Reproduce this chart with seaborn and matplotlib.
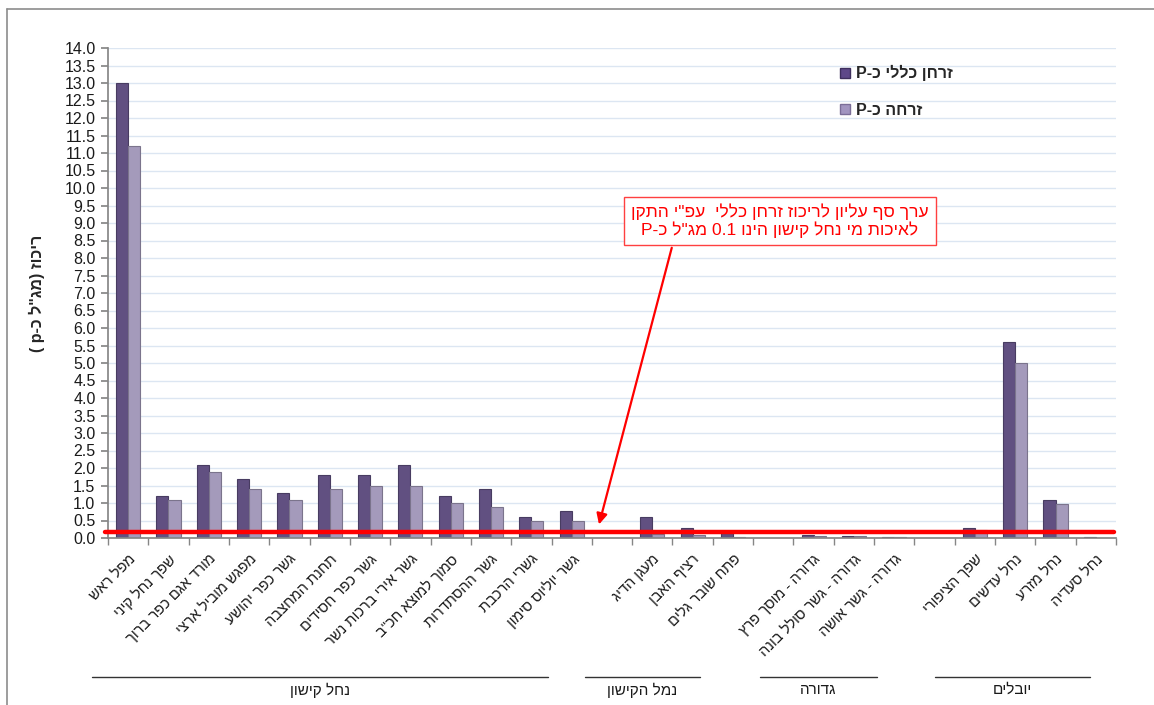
import re
import numpy as np
import pandas as pd
import matplotlib
matplotlib.use('Agg')
import matplotlib.pyplot as plt
import seaborn as sns
from matplotlib.lines import Line2D
from matplotlib.patches import Patch

# stations along the x axis ('' = empty slot between groups)
stations = ['מפל ראש', 'שפך נחל קיני', 'מורד אגם כפר ברוך', 'מפגש מוביל ארצי',
            'גשר כפר יהושע', 'תחנת המחצבה', 'גשר כפר חסידים', 'גשר אירי ברכות נשר',
            'סמוך למוצא חכ"ב', 'גשר ההסתדרות', 'גשרי הרכבת', 'גשר יוליוס סימון',
            '',
            'מעגן הדיג', 'רציף האבן', 'פתח שובר גלים',
            '',
            'גדורה - מוסך פרץ', 'גדורה - גשר סולל בונה', 'גדורה - גשר אושה',
            '',
            'שפך הציפורי', 'נחל עדשים', 'נחל מזרע', 'נחל סעדיה']

total_p = [13.0, 1.2, 2.1, 1.7, 1.3, 1.8, 1.8, 2.1, 1.2, 1.4, 0.6, 0.78,
           None,
           0.6, 0.29, 0.15,
           None,
           0.08, 0.06, 0.02,
           None,
           0.28, 5.6, 1.08, 0.02]

dissolved_p = [11.2, 1.1, 1.9, 1.4, 1.1, 1.4, 1.5, 1.5, 1.0, 0.9, 0.5, 0.49,
               None,
               0.12, 0.08, 0.03,
               None,
               0.07, 0.05, 0.02,
               None,
               0.22, 5.0, 0.97, 0.01]

series_names = ['זרחן כללי כ-P', 'זרחה כ-P']
groups = ['נחל קישון', 'נמל הקישון', 'גדורה', 'יובלים']
y_label = 'ריכוז (מג"ל כ-p )'
note_lines = ['ערך סף עליון לריכוז זרחן כללי  עפ"י התקן',
              'לאיכות מי נחל קישון הינו 0.1 מג"ל כ-P']
THRESHOLD = 0.17

LTR = re.compile(r'[A-Za-z0-9]+(?:\.[0-9]+)*')
MIRROR = {'(': ')', ')': '('}


def visual(s):
    """Turn logical-order Hebrew text into visual order for matplotlib."""
    parts = []
    i = 0
    for m in LTR.finditer(s):
        parts.extend(s[i:m.start()])
        parts.append(m.group())
        i = m.end()
    parts.extend(s[i:])
    return ''.join(MIRROR.get(p, p) for p in reversed(parts))


slots = ['s%d' % i for i in range(len(stations))]
df = pd.DataFrame({
    'slot': slots * 2,
    'series': [series_names[0]] * len(slots) + [series_names[1]] * len(slots),
    'value': [np.nan if v is None else v for v in total_p + dissolved_p],
})

sns.set_theme(style='white')
plt.rcParams['font.family'] = ['Liberation Sans', 'DejaVu Sans']

W, H = 1154, 705
fig = plt.figure(figsize=(W / 100, H / 100), dpi=100)
ax = fig.add_axes([108 / W, 1 - 538 / H, 1008 / W, 490 / H])

dark, light = '#5e4889', '#a295c0'
sns.barplot(data=df, x='slot', y='value', hue='series', order=slots,
            hue_order=series_names, palette=[dark, light], width=0.6,
            errorbar=None, legend=False, ax=ax)
for bar in ax.patches:
    fc = bar.get_facecolor()
    bar.set_edgecolor(tuple(c * 0.75 for c in fc[:3]))
    bar.set_linewidth(0.8)

ax.set_xlim(-0.5, len(slots) - 0.5)
ax.set_ylim(0, 14)
ax.set_yticks(np.arange(0, 14.01, 0.5))
ax.set_yticklabels(['%.1f' % v for v in np.arange(0, 14.01, 0.5)], fontsize=11.5, color='#1a1a1a')
ax.yaxis.grid(True, color='#dce6f2', lw=1)
ax.set_axisbelow(True)

ax.set_xticks(range(len(slots)))
ax.set_xticklabels([visual(s) for s in stations], rotation=45, ha='right',
                   rotation_mode='anchor', fontsize=10.5, color='#1a1a1a')
ax.set_xticks(np.arange(-0.5, len(slots), 1), minor=True)
ax.tick_params(axis='x', which='major', length=0, pad=10)
ax.tick_params(axis='x', which='minor', length=5, color='#868686', bottom=True)
ax.tick_params(axis='y', length=5, color='#868686', left=True, pad=4)
ax.set_xlabel('')
ax.set_ylabel(visual(y_label), fontsize=11.5, fontweight='bold', labelpad=14)
for side in ['top', 'right']:
    ax.spines[side].set_visible(False)
for side in ['left', 'bottom']:
    ax.spines[side].set_color('#868686')

# threshold line
ax.plot([-0.57, 24.44], [THRESHOLD, THRESHOLD], color='red', lw=3.2, clip_on=False, zorder=5)

# note box and arrow
fig.text(780 / W, 1 - 221 / H, '\n'.join(visual(t) for t in note_lines),
         ha='center', va='center', fontsize=12.5, color='red', linespacing=1.1,
         bbox=dict(boxstyle='square,pad=0.4', fc='white', ec='#ff4040', lw=1))
ax.annotate('', xy=(11.66, 0.31), xytext=(13.5, 8.37),
            arrowprops=dict(arrowstyle='-|>', color='red', lw=1.6, mutation_scale=16))

# legend
handles = [Patch(facecolor=dark, edgecolor='#3e2f5e'), Patch(facecolor=light, edgecolor='#7b6e98')]
fig.legend(handles, [visual(s) for s in series_names], loc='upper left',
           bbox_to_anchor=(826 / W, 1 - 51 / H), frameon=False, handlelength=0.6,
           handleheight=0.6, handletextpad=0.4, labelspacing=1.35,
           prop={'weight': 'bold', 'size': 11.5})

# group labels with lines above them
spans = [(92, 548), (585, 700), (760, 877), (935, 1090)]
for name, (x0, x1) in zip(groups, spans):
    fig.add_artist(Line2D([x0 / W, x1 / W], [1 - 677 / H] * 2, transform=fig.transFigure,
                          color='#333333', lw=1))
    fig.text((x0 + x1) / 2 / W, 1 - 690 / H, visual(name), ha='center', va='center',
             fontsize=11, color='#1a1a1a')

# outer chart frame
fig.add_artist(Line2D([7 / W, 1], [1 - 9 / H] * 2, transform=fig.transFigure, color='#8c8c8c', lw=1.2))
fig.add_artist(Line2D([7 / W, 7 / W], [0, 1 - 9 / H], transform=fig.transFigure, color='#8c8c8c', lw=1.2))

fig.savefig('out.png', dpi=100)
